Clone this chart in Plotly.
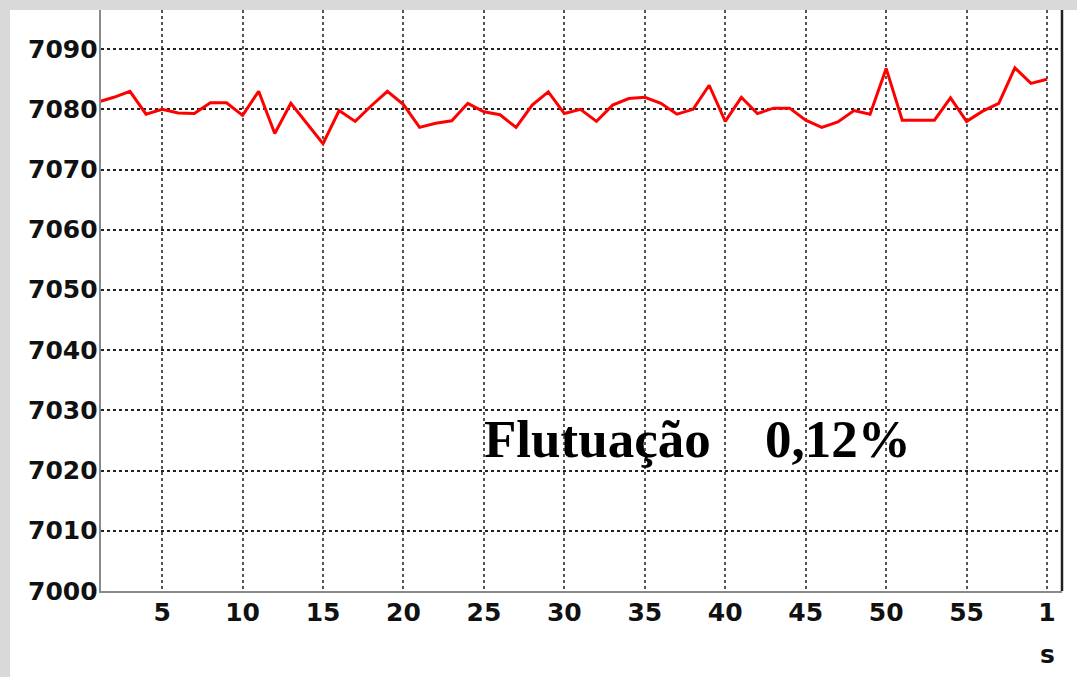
import plotly.graph_objects as go

# samples, one per second
seconds = list(range(1, 61))
values = [
    7081.2, 7082.0, 7083.0, 7079.2, 7080.0, 7079.4, 7079.3, 7081.1, 7081.1, 7079.0,
    7083.0, 7076.0, 7081.0, 7077.6, 7074.3, 7079.8, 7078.0, 7080.6, 7083.0, 7080.8,
    7077.0, 7077.7, 7078.1, 7081.0, 7079.6, 7079.1, 7077.0, 7080.7, 7082.9, 7079.3,
    7080.0, 7078.0, 7080.7, 7081.8, 7082.0, 7081.0, 7079.2, 7080.0, 7084.0, 7078.0,
    7082.0, 7079.3, 7080.2, 7080.2, 7078.2, 7077.0, 7077.9, 7079.8, 7079.2, 7086.8,
    7078.2, 7078.2, 7078.2, 7081.9, 7078.0, 7079.7, 7081.0, 7086.9, 7084.3, 7085.0,
]

x_tickvals = [5, 10, 15, 20, 25, 30, 35, 40, 45, 50, 55, 60]
x_ticktext = ["5", "10", "15", "20", "25", "30", "35", "40", "45", "50", "55", "1"]
y_tickvals = list(range(7000, 7100, 10))

fig = go.Figure()

fig.add_trace(go.Scatter(
    x=seconds, y=values,
    mode="lines",
    line=dict(color="#ff0000", width=3),
    showlegend=False,
    hoverinfo="skip",
))

tick_font = dict(family="DejaVu Sans", size=25, color="#111", weight="bold")
note_font = dict(family="Liberation Serif, Times New Roman", size=53, color="black", weight="bold")

fig.update_layout(
    width=1077, height=677,
    margin=dict(l=101, r=15, t=10, b=86),
    paper_bgcolor="#d9d9d9",
    plot_bgcolor="white",
    xaxis=dict(
        range=[1.2, 60.93],
        tickvals=x_tickvals, ticktext=x_ticktext,
        showgrid=True, gridcolor="#555", griddash="dot", gridwidth=2,
        showline=True, linecolor="#8a8a8a", linewidth=2,
        ticks="", ticklabelstandoff=-2,
        tickfont=tick_font, zeroline=False, automargin=False,
    ),
    yaxis=dict(
        range=[7000, 7096.5],
        tickvals=y_tickvals, showticklabels=False,
        showgrid=True, gridcolor="#222", griddash="dot", gridwidth=2,
        showline=True, linecolor="#8a8a8a", linewidth=2,
        ticks="", zeroline=False, automargin=False,
    ),
    shapes=[
        # white panel behind the chart
        dict(type="rect", xref="paper", yref="paper",
             x0=-0.0947, x1=1.02, y0=-0.2, y1=1.0,
             fillcolor="white", line=dict(width=0), layer="below"),
        # dark right border
        dict(type="line", xref="paper", yref="paper",
             x0=1, x1=1, y0=0, y1=1,
             line=dict(color="#222", width=2.5)),
    ],
    annotations=[
        dict(x=24.85, y=7025.2, xref="x", yref="y", text="Flutuação",
             showarrow=False, xanchor="left", yanchor="middle", font=note_font),
        dict(x=42.35, y=7025.2, xref="x", yref="y", text="0,12%",
             showarrow=False, xanchor="left", yanchor="middle", font=note_font),
        dict(x=60, y=-0.11, xref="x", yref="paper", text="s",
             showarrow=False, xanchor="center", yanchor="middle", font=tick_font),
    ],
)

# y tick labels placed tight against the axis line
for v in y_tickvals:
    fig.add_annotation(x=0, y=v, xref="paper", yref="y", text=str(v),
                       showarrow=False, xanchor="right", yanchor="middle",
                       xshift=-1, font=tick_font)

# drop the default 8px body margin so the figure fills the window
fig.write_html("out.html",
               config={"displayModeBar": False},
               post_script="document.body.style.margin='0';document.body.style.overflow='hidden';")
